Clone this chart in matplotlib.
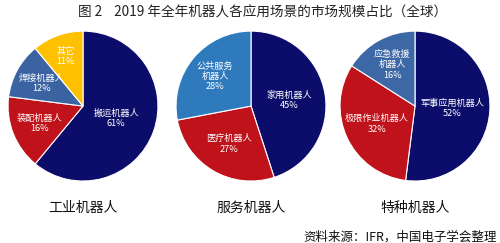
import numpy as np
import matplotlib
matplotlib.use('Agg')
import matplotlib.pyplot as plt

plt.rcParams['font.family'] = ['Noto Sans CJK SC', 'DejaVu Sans']

# data
ind_labels = ['搬运机器人', '装配机器人', '焊接机器人', '其它']
ind_values = [61, 16, 12, 11]
srv_labels = ['家用机器人', '医疗机器人', '公共服务\n机器人']
srv_values = [45, 27, 28]
spc_labels = ['军事应用机器人', '极限作业机器人', '应急救援\n机器人']
spc_values = [52, 32, 16]
group_names = ['工业机器人', '服务机器人', '特种机器人']

navy = '#0c0c6a'
red = '#c0121a'
yellow = '#ffc000'

pies = [
    (ind_labels, ind_values, [navy, red, '#3b63a2', yellow], [0.47, 0.62, 0.63, 0.70], 0.016, 0.30),
    (srv_labels, srv_values, [navy, red, '#2f7abd'], [0.52, 0.59, 0.62], 0.352, 0.30),
    (spc_labels, spc_values, [navy, red, '#3d68a6'], [0.50, 0.56, 0.63], 0.678, 0.304),
]

fig = plt.figure(figsize=(5, 2.43), dpi=100)

for (labels, values, colors, dists, left, w), name in zip(pies, group_names):
    ax = fig.add_axes([left, 0.255, w, 0.617])
    wedges, _ = ax.pie(values, colors=colors, startangle=90, counterclock=False,
                       wedgeprops=dict(edgecolor='white', linewidth=0.8))
    ax.set_xlim(-1, 1)
    ax.set_ylim(-1, 1)
    for wd, lab, v, d in zip(wedges, labels, values, dists):
        mid = np.deg2rad((wd.theta1 + wd.theta2) / 2)
        ax.text(d * np.cos(mid), d * np.sin(mid), '%s\n%d%%' % (lab, v),
                color='white', fontsize=6.6, ha='center', va='center', linespacing=1.2)
    fig.text(left + w / 2, 1 - 208 / 243, name, fontsize=10, ha='center', va='center', color='#111111')

fig.text(0.526, 1 - 13 / 243, '图 2    2019 年全年机器人各应用场景的市场规模占比（全球）',
         fontsize=9.8, ha='center', va='center', color='#222222')
fig.text(0.994, 1 - 237 / 243, '资料来源：IFR，中国电子学会整理',
         fontsize=9, ha='right', va='center', color='#111111')

fig.savefig('out.png', dpi=100)
